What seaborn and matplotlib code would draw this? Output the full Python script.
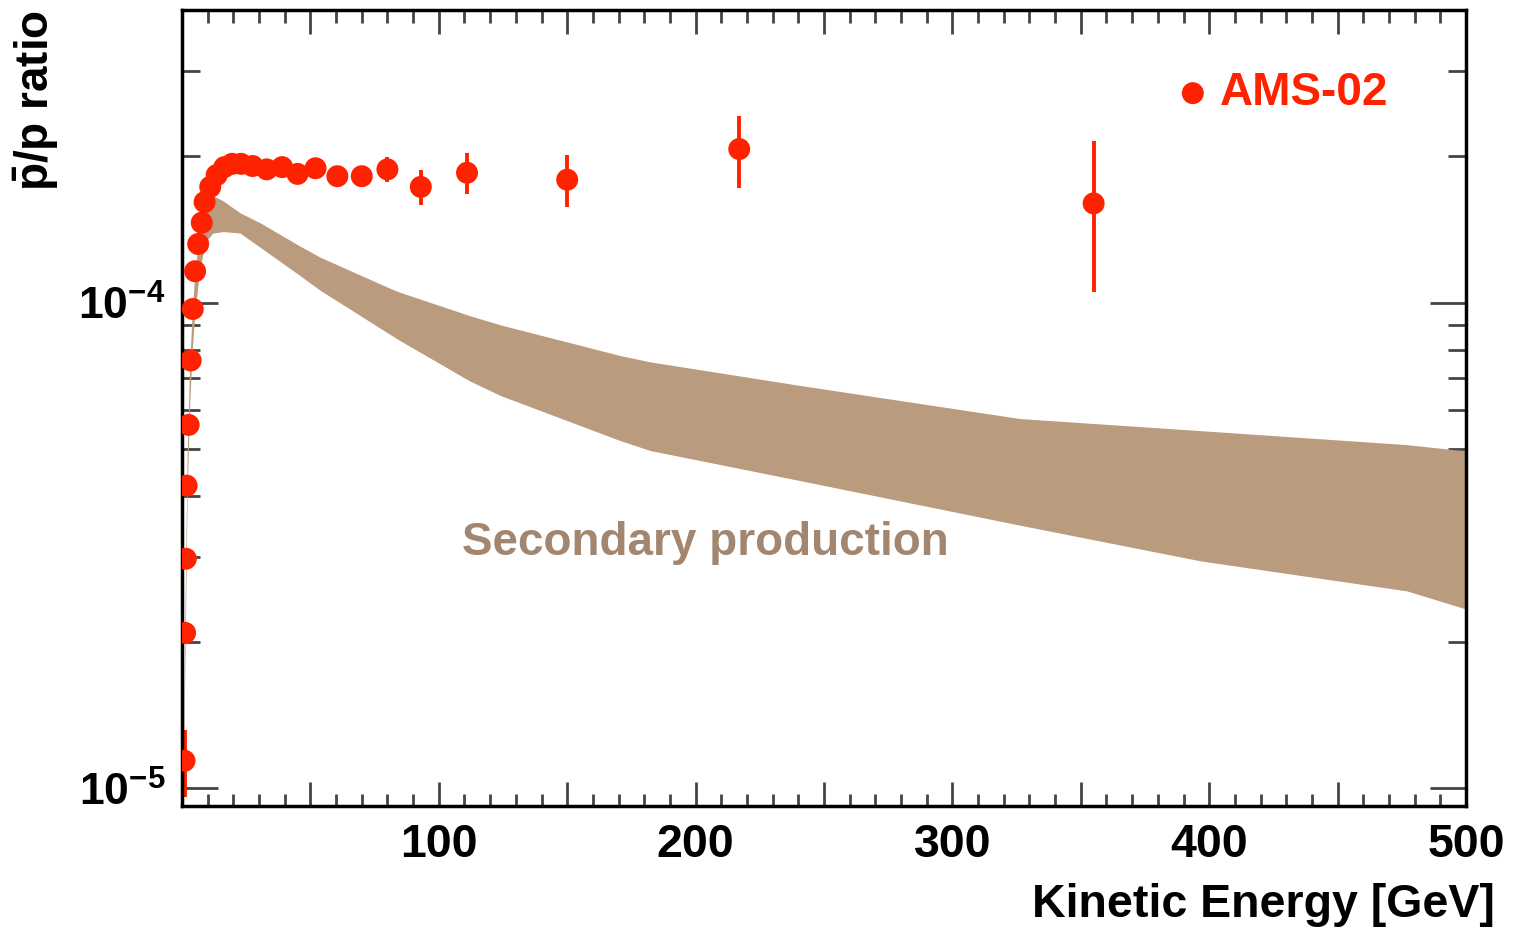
import numpy as np
import pandas as pd
import matplotlib
matplotlib.use("Agg")
import matplotlib.pyplot as plt
import matplotlib.ticker as mticker
import seaborn as sns

# AMS-02 pbar/p points
energy = [1.0, 1.2, 1.5, 1.8, 2.6, 3.4, 4.2, 5.1, 6.3, 7.7, 8.8, 11.0, 13.5,
          16.5, 19.5, 23.0, 27.5, 33.0, 39.0, 45.0, 52.0, 60.5, 70.0, 80.0,
          93.0, 111.0, 150.0, 217.0, 355.0]
ratio = [1.14e-5, 2.09e-5, 2.97e-5, 4.2e-5, 5.6e-5, 7.6e-5, 9.7e-5, 1.16e-4,
         1.32e-4, 1.46e-4, 1.61e-4, 1.73e-4, 1.83e-4, 1.90e-4, 1.93e-4,
         1.93e-4, 1.91e-4, 1.88e-4, 1.90e-4, 1.84e-4, 1.89e-4, 1.82e-4,
         1.82e-4, 1.88e-4, 1.73e-4, 1.85e-4, 1.79e-4, 2.07e-4, 1.60e-4]
ratio_err = [1.8e-6, 0.8e-6, 1.0e-6, 1.2e-6, 1.5e-6, 2e-6, 2.5e-6, 3e-6,
             3e-6, 3e-6, 3e-6, 3e-6, 3e-6, 3e-6, 3e-6, 3e-6, 3.5e-6, 4e-6,
             4.5e-6, 5e-6, 6e-6, 7e-6, 8e-6, 1.1e-5, 1.4e-5, 1.8e-5,
             2.2e-5, 3.5e-5, 5.5e-5]

# secondary production band
band_e = [0.5, 1.0, 2.0, 3.0, 4.0, 5.0, 6.5, 8.0, 10.0, 12.0, 16.0, 22.6,
          30.4, 45.6, 53.8, 81.0, 84.9, 112.0, 123.9, 170.6, 182.3, 240.8,
          326.5, 396.6, 477.0, 500.0]
band_lo = [8e-6, 1.6e-5, 4.0e-5, 6.2e-5, 8.0e-5, 9.5e-5, 1.12e-4, 1.25e-4,
           1.35e-4, 1.39e-4, 1.40e-4, 1.39e-4, 1.30e-4, 1.14e-4, 1.06e-4,
           8.6e-5, 8.35e-5, 6.9e-5, 6.44e-5, 5.2e-5, 4.96e-5, 4.30e-5,
           3.48e-5, 2.94e-5, 2.55e-5, 2.34e-5]
band_hi = [1.0e-5, 2.0e-5, 4.8e-5, 7.5e-5, 9.6e-5, 1.15e-4, 1.35e-4, 1.50e-4,
           1.62e-4, 1.66e-4, 1.62e-4, 1.53e-4, 1.46e-4, 1.31e-4, 1.24e-4,
           1.07e-4, 1.05e-4, 9.4e-5, 9.0e-5, 7.78e-5, 7.55e-5, 6.75e-5,
           5.77e-5, 5.45e-5, 5.1e-5, 4.95e-5]

xtick_pos = [100, 200, 300, 400, 500]
xtick_labels = ["100", "200", "300", "400", "500"]

red = "#ff2200"
tan = "#ba9b7e"

sns.set_theme(style="ticks")
plt.rcParams["font.family"] = ["Liberation Sans", "DejaVu Sans"]
plt.rcParams["font.weight"] = "bold"
plt.rcParams["mathtext.fontset"] = "custom"
plt.rcParams["mathtext.rm"] = "Liberation Sans:bold"
plt.rcParams["mathtext.bf"] = "Liberation Sans:bold"
plt.rcParams["mathtext.it"] = "Liberation Sans:bold"

df = pd.DataFrame({"energy": energy, "ratio": ratio, "err": ratio_err})

fig = plt.figure(figsize=(15.14, 9.3), dpi=100)
ax = fig.add_axes([0.1202, 0.1333, 0.8481, 0.8559])

ax.fill_between(band_e, band_lo, band_hi, color=tan, lw=0, zorder=1)
ax.errorbar(df["energy"], df["ratio"], yerr=df["err"], fmt="none",
            ecolor=red, elinewidth=2.8, capsize=0, zorder=2)
sns.scatterplot(data=df, x="energy", y="ratio", ax=ax, color=red, s=250,
                edgecolor="none", zorder=3, label="AMS-02")

ax.set_yscale("log")
ax.set_xlim(0, 500)
ax.set_ylim(9.2e-6, 4.0e-4)

ax.xaxis.set_major_locator(mticker.MultipleLocator(50))
ax.xaxis.set_minor_locator(mticker.MultipleLocator(10))
ax.xaxis.set_major_formatter(mticker.FuncFormatter(
    lambda v, p: xtick_labels[xtick_pos.index(int(round(v)))]
    if int(round(v)) in xtick_pos else ""))
ax.yaxis.set_major_locator(mticker.FixedLocator([1e-5, 1e-4]))
ax.yaxis.set_minor_locator(mticker.LogLocator(base=10, subs=np.arange(2, 10)))
ax.yaxis.set_minor_formatter(mticker.NullFormatter())
ax.yaxis.set_major_formatter(mticker.FuncFormatter(
    lambda v, p: r"$10^{%d}$" % int(round(np.log10(v)))))

ax.tick_params(axis="both", which="both", direction="in", top=True,
               right=True, colors="#444444", labelcolor="black", width=2)
ax.tick_params(axis="x", which="major", length=17, labelsize=33.5, pad=12)
ax.tick_params(axis="x", which="minor", length=9)
ax.tick_params(axis="y", which="major", length=26, labelsize=32, pad=12)
ax.tick_params(axis="y", which="minor", length=13)
for s in ax.spines.values():
    s.set_linewidth(2.5)
    s.set_color("black")

ax.set_xlabel("Kinetic Energy [GeV]", fontsize=33.5, fontweight="bold",
              loc="right", color="black")
ax.xaxis.set_label_coords(1.0226, -0.097)
ax.set_ylabel(r"$\bar{\mathrm{p}}$/p ratio", fontsize=33, fontweight="bold",
              loc="top", labelpad=12, color="black")

ax.text(0.218, 0.330, "Secondary production", transform=ax.transAxes,
        fontsize=33, fontweight="bold", color="#a3866f", ha="left", va="center")

leg = ax.legend(loc="upper right", frameon=False, fontsize=33,
                handletextpad=0.1, handlelength=1.0, markerscale=1.0,
                bbox_to_anchor=(0.972, 0.975), labelcolor=red)

fig.savefig("out.png", dpi=100)
